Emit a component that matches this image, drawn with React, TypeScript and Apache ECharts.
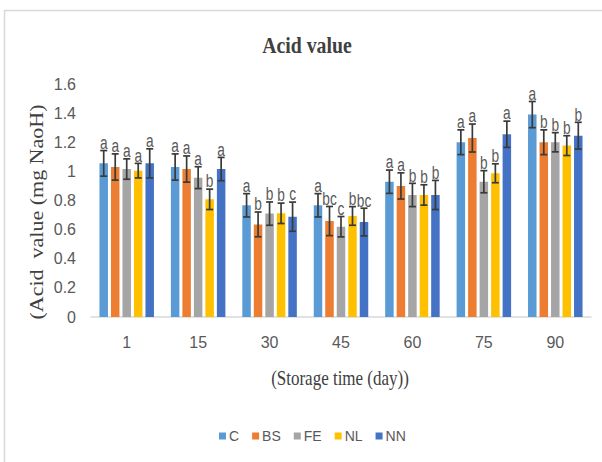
import React, { useEffect, useRef } from "react";
import * as echarts from "echarts";

const categories = ["1", "15", "30", "45", "60", "75", "90"];
const seriesNames = ["C", "BS", "FE", "NL", "NN"];
const colors = ["#5B9BD5", "#ED7D31", "#A5A5A5", "#FFC000", "#4472C4"];

const valuesC = [1.055, 1.03, 0.767, 0.767, 0.929, 1.2, 1.39];
const valuesBS = [1.03, 1.016, 0.636, 0.659, 0.9, 1.229, 1.2];
const valuesFE = [1.016, 0.957, 0.71, 0.62, 0.838, 0.929, 1.2];
const valuesNL = [1.005, 0.808, 0.712, 0.694, 0.838, 0.987, 1.177];
const valuesNN = [1.055, 1.016, 0.689, 0.652, 0.838, 1.255, 1.245];

const errC = [0.088, 0.09, 0.08, 0.08, 0.08, 0.085, 0.09];
const errBS = [0.09, 0.09, 0.085, 0.1, 0.09, 0.096, 0.085];
const errFE = [0.07, 0.075, 0.08, 0.07, 0.08, 0.076, 0.066];
const errNL = [0.05, 0.07, 0.07, 0.064, 0.07, 0.065, 0.068];
const errNN = [0.1, 0.08, 0.1, 0.095, 0.1, 0.09, 0.092];

const lettersC = ["a", "a", "a", "a", "a", "a", "a"];
const lettersBS = ["a", "a", "b", "bc", "a", "a", "b"];
const lettersFE = ["a", "a", "b", "c", "b", "b", "b"];
const lettersNL = ["a", "b", "b", "b", "b", "b", "b"];
const lettersNN = ["a", "a", "c", "bc", "b", "a", "b"];

const yTicks = { min: 0, max: 1.6, interval: 0.2 };

const allValues = [valuesC, valuesBS, valuesFE, valuesNL, valuesNN];
const allErr = [errC, errBS, errFE, errNL, errNN];
const allLetters = [lettersC, lettersBS, lettersFE, lettersNL, lettersNN];

const BAR_W = 8.5;
const BAR_GAP = 3;
const SANS = "'Liberation Sans Narrow', 'Liberation Sans', sans-serif";
const SERIF = "'Liberation Serif', serif";

export default function App() {
  const ref = useRef<HTMLDivElement>(null);
  useEffect(() => {
    document.body.style.margin = "0";
    const chart = echarts.init(ref.current!, null, { renderer: "svg" });
    const series: any[] = [];
    seriesNames.forEach((name, i) => {
      series.push({
        name,
        type: "bar",
        data: allValues[i],
        barWidth: BAR_W,
        barGap: (BAR_GAP / BAR_W) * 100 + "%",
        itemStyle: { color: colors[i] },
        z: 2,
      });
    });
    seriesNames.forEach((name, i) => {
      const offset = (i - 2) * (BAR_W + BAR_GAP);
      series.push({
        type: "custom",
        name: name + "_err",
        z: 5,
        silent: true,
        data: allValues[i].map((v, k) => [k, v, allErr[i][k]]),
        renderItem: (params: any, api: any) => {
          const k = api.value(0);
          const v = api.value(1);
          const e = api.value(2);
          const letter = allLetters[i][k];
          const top = api.coord([k, v + e]);
          const bot = api.coord([k, v - e]);
          const x = top[0] + offset;
          const cap = 3.5;
          const st = { stroke: "#3a3a3a", lineWidth: 1.7 };
          return {
            type: "group",
            children: [
              { type: "line", shape: { x1: x, y1: top[1], x2: x, y2: bot[1] }, style: st },
              { type: "line", shape: { x1: x - cap, y1: top[1], x2: x + cap, y2: top[1] }, style: st },
              { type: "line", shape: { x1: x - cap, y1: bot[1], x2: x + cap, y2: bot[1] }, style: st },
              {
                type: "text",
                x: x,
                y: top[1] + 1.5,
                scaleX: 0.72,
                style: {
                  text: letter,
                  x: 0,
                  y: 0,
                  align: "center",
                  verticalAlign: "bottom",
                  fill: "#595959",
                  font: "19px " + SANS,
                },
              },
            ],
          };
        },
      });
    });

    chart.setOption({
      animation: false,
      backgroundColor: "#ffffff",
      legend: {
        data: seriesNames,
        bottom: 14,
        left: 214,
        itemWidth: 7,
        itemHeight: 7,
        itemGap: 13,
        icon: "rect",
        textStyle: {
          color: "#595959",
          fontSize: 14,
          fontFamily: SANS,
          padding: [0, 0, 0, -2],
        },
      },
      grid: { left: 91, right: 11, top: 84, bottom: 145 },
      xAxis: {
        type: "category",
        data: categories,
        axisTick: { show: false },
        axisLine: { lineStyle: { color: "#D9D9D9", width: 1.5 } },
        axisLabel: {
          color: "#595959",
          fontSize: 16,
          margin: 17,
          fontFamily: SANS,
        },
      },
      yAxis: {
        type: "value",
        min: yTicks.min,
        max: yTicks.max,
        interval: yTicks.interval,
        splitLine: { show: false },
        axisLine: { show: false },
        axisTick: { show: false },
        axisLabel: {
          color: "#595959",
          fontSize: 16,
          margin: 15,
          fontFamily: SANS,
          formatter: (v: number) => String(Math.round(v * 10) / 10),
        },
      },
      graphic: [
        { type: "line", shape: { x1: 4.5, y1: 10, x2: 4.5, y2: 462 }, style: { stroke: "#D9D9D9", lineWidth: 1.5 } },
        { type: "line", shape: { x1: 4, y1: 10.5, x2: 602, y2: 10.5 }, style: { stroke: "#D9D9D9", lineWidth: 1.5 } },
        {
          type: "text",
          x: 307,
          y: 45,
          scaleX: 0.86,
          style: {
            text: "Acid value",
            x: 0,
            y: 0,
            align: "center",
            verticalAlign: "middle",
            fill: "#404040",
            font: "bold 23px " + SERIF,
          },
        },
        {
          type: "text",
          x: 37,
          y: 212,
          rotation: Math.PI / 2,
          scaleY: 0.85,
          style: {
            text: "(Acid  value (mg NaoH)",
            x: 0,
            y: 0,
            align: "center",
            verticalAlign: "middle",
            fill: "#404040",
            font: "22px " + SERIF,
          },
        },
        {
          type: "text",
          x: 340,
          y: 378,
          scaleX: 0.85,
          style: {
            text: "(Storage time (day))",
            x: 0,
            y: 0,
            align: "center",
            verticalAlign: "middle",
            fill: "#404040",
            font: "20px " + SERIF,
          },
        },
      ],
      series,
    });
    return () => chart.dispose();
  }, []);
  return <div ref={ref} style={{ width: 602, height: 462 }} />;
}
